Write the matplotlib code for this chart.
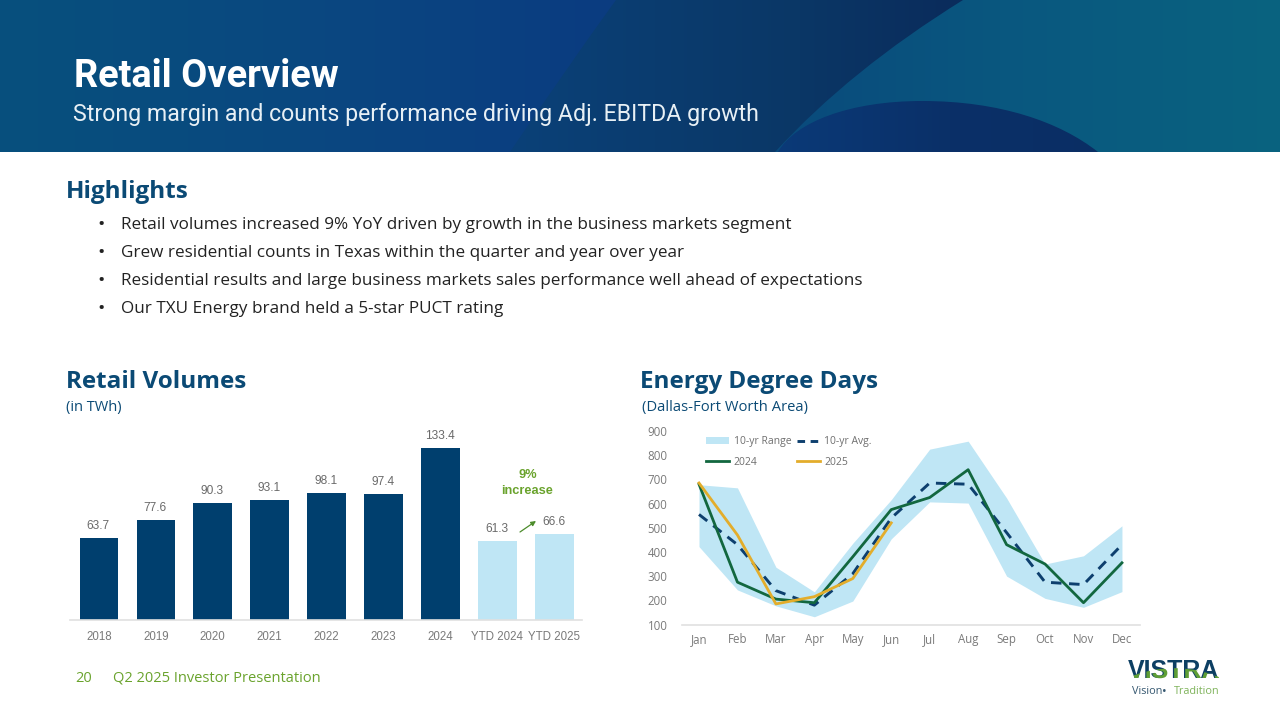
import numpy as np
import matplotlib
matplotlib.use("Agg")
import matplotlib.pyplot as plt
from matplotlib.font_manager import FontProperties
from matplotlib.patches import Patch, PathPatch
from matplotlib.path import Path
from matplotlib.lines import Line2D
from matplotlib.textpath import TextPath
from matplotlib.transforms import Affine2D

# retail volumes
years = ["2018", "2019", "2020", "2021", "2022", "2023", "2024", "YTD 2024", "YTD 2025"]
volumes = [63.7, 77.6, 90.3, 93.1, 98.1, 97.4, 133.4, 61.3, 66.6]

# degree days
months = ["Jan", "Feb", "Mar", "Apr", "May", "Jun", "Jul", "Aug", "Sep", "Oct", "Nov", "Dec"]
range_high = [678, 665, 337, 235, 436, 616, 825, 858, 623, 350, 384, 508]
range_low = [422, 243, 177, 132, 197, 454, 607, 602, 300, 208, 171, 236]
avg_10yr = [555, 430, 240, 180, 310, 540, 685, 680, 480, 275, 265, 430]
dd_2024 = [680, 275, 205, 190, 380, 575, 625, 740, 430, 350, 190, 355]
dd_2025 = [685, 470, 185, 215, 290, 520]

bullets = [
    "Retail volumes increased 9% YoY driven by growth in the business markets segment",
    "Grew residential counts in Texas within the quarter and year over year",
    "Residential results and large business markets sales performance well ahead of expectations",
    "Our TXU Energy brand held a 5-star PUCT rating",
]

NAVY = "#003f6e"
HEAD = "#0b4a75"
LIGHT = "#bfe6f5"
GREY = "#7a7a7a"
GREEN = "#6aa32d"
BODY = "Open Sans"

W, H = 1280, 720
fig = plt.figure(figsize=(12.8, 7.2), dpi=100, facecolor="white")


def px_axes(x0, y0, x1, y1, **kw):
    return fig.add_axes([x0 / W, 1 - y1 / H, (x1 - x0) / W, (y1 - y0) / H], **kw)


bg = px_axes(0, 0, W, H)
bg.set_xlim(0, W)
bg.set_ylim(H, 0)
bg.autoscale(False)
bg.axis("off")


def gradient(stops, clip=None, z=1):
    xs = np.arange(W) + 0.5
    pos = [s[0] for s in stops]
    cols = np.array([matplotlib.colors.to_rgb(s[1]) for s in stops])
    img = np.stack([np.interp(xs, pos, cols[:, i]) for i in range(3)], axis=-1)[None, :, :]
    im = bg.imshow(img, extent=[0, W, 152, 0], aspect="auto", zorder=z)
    if clip is not None:
        im.set_clip_path(clip, transform=bg.transData)


# header banner
gradient([(0, "#07507d"), (300, "#0a4880"), (600, "#0b3c80"), (W, "#0b3c80")], z=1)
band = Path([(616, 0), (565, 70), (510, 152), (W, 152), (W, 0), (616, 0)],
            [Path.MOVETO, Path.CURVE3, Path.CURVE3, Path.LINETO, Path.LINETO, Path.CLOSEPOLY])
gradient([(510, "#0b4178"), (800, "#0a3766"), (950, "#0a2c5c"), (W, "#0a2c5c")], clip=band, z=2)
right = Path([(963, 0), (850, 70), (775, 152), (W, 152), (W, 0), (963, 0)],
             [Path.MOVETO, Path.CURVE3, Path.CURVE3, Path.LINETO, Path.LINETO, Path.CLOSEPOLY])
gradient([(775, "#0a4a7c"), (1000, "#09577f"), (W, "#0a6380")], clip=right, z=3)
bump = Path([(778, 152), (795, 122), (850, 101), (922, 101),
             (1000, 101), (1060, 122), (1098, 152), (778, 152)],
            [Path.MOVETO, Path.CURVE4, Path.CURVE4, Path.CURVE4,
             Path.CURVE4, Path.CURVE4, Path.CURVE4, Path.CLOSEPOLY])
gradient([(775, "#0a3a78"), (950, "#0a3068"), (W, "#0a2c60")], clip=bump, z=4)

bg.text(74, 76.5, "Retail Overview", color="white", fontsize=27.4, fontweight="bold", family="Roboto", va="center", zorder=6)
bg.text(73, 114, "Strong margin and counts performance driving Adj. EBITDA growth", color="#e8f0f5",
        fontsize=16.65, family="Roboto", va="center", zorder=6)

# highlights
bg.text(66, 192.5, "Highlights", color=HEAD, fontsize=17.5, fontweight="bold", family=BODY, va="center")
for i, line in enumerate(bullets):
    y = 225 + i * 28
    bg.text(97, y, "•", color="#222222", fontsize=14, family=BODY, va="center")
    bg.text(121, y, line, color="#222222", fontsize=12.3, family=BODY, va="center")

bg.text(66, 382, "Retail Volumes", color=HEAD, fontsize=17.5, fontweight="bold", family=BODY, va="center")
bg.text(66, 407.5, "(in TWh)", color=HEAD, fontsize=10.5, family=BODY, va="center")
bg.text(640, 382, "Energy Degree Days", color=HEAD, fontsize=17.5, fontweight="bold", family=BODY, va="center")
bg.text(642, 407.5, "(Dallas-Fort Worth Area)", color=HEAD, fontsize=10.6, family=BODY, va="center")

# bar chart, 1.286 px per TWh, 56.9 px per bar
ax1 = px_axes(70, 425, 582, 619.5)
ax1.patch.set_alpha(0)
ax1.set_xlim((70 - 99) / 56.9, (582 - 99) / 56.9)
ax1.set_ylim(0, 194.5 / 1.286)
pos = np.arange(len(years))
colors = [NAVY] * 7 + [LIGHT] * 2
ax1.bar(pos, volumes, width=0.68, color=colors)
for p, v in zip(pos, volumes):
    ax1.annotate(f"{v:.1f}", (p, v), xytext=(-0.5, 6.5), textcoords="offset points", ha="center",
                 fontsize=8.6, color="#6a6a6a", family="Liberation Sans")
ax1.set_xticks(pos, years)
ax1.tick_params(axis="x", length=0, pad=8.2, labelsize=8.3, labelcolor=GREY)
for t in ax1.get_xticklabels():
    t.set_family("Liberation Sans")
ax1.set_yticks([])
for s in ["top", "left", "right"]:
    ax1.spines[s].set_visible(False)
ax1.spines["bottom"].set_color("#e0e0e0")
ax1.spines["bottom"].set_linewidth(1.2)

bg.text(527.5, 475, "9%", color=GREEN, fontsize=9.2, fontweight="bold", family="Liberation Sans", ha="center", va="center")
bg.text(527.5, 491, "increase", color=GREEN, fontsize=9.2, fontweight="bold", family="Liberation Sans", ha="center", va="center")
bg.annotate("", xy=(536, 521), xytext=(520, 532),
            arrowprops=dict(arrowstyle="-|>", color="#4c8c2b", lw=0.9, mutation_scale=7, shrinkA=0, shrinkB=0))

# degree day chart, Jan at 699 px, 38.45 px per month, 100 at 624.5 px, 900 at 431 px
ax2 = px_axes(682, 423, 1140, 624.5)
ax2.patch.set_alpha(0)
ax2.set_xlim((682 - 699) / 38.45, (1140 - 699) / 38.45)
ax2.set_ylim(100, 100 + (624.5 - 423) / (193.5 / 800))
m = np.arange(len(months))
ax2.fill_between(m, range_low, range_high, color=LIGHT, lw=0, zorder=1)
ax2.plot(m, avg_10yr, color="#0d3f6e", lw=2.1, dashes=(3.6, 2.6), zorder=2)
ax2.plot(m, dd_2024, color="#12673f", lw=2, zorder=3)
ax2.plot(m[:len(dd_2025)], dd_2025, color="#e3ad2b", lw=2, zorder=4)
ax2.set_xticks(m, months)
ax2.set_yticks(range(100, 1000, 100))
ax2.tick_params(axis="x", length=0, pad=6, labelsize=8.3, labelcolor=GREY)
ax2.tick_params(axis="y", length=0, pad=10.5, labelsize=8.3, labelcolor=GREY)
for t in ax2.get_xticklabels() + ax2.get_yticklabels():
    t.set_family("Open Sans")
for s in ["top", "left", "right"]:
    ax2.spines[s].set_visible(False)
ax2.spines["bottom"].set_color("#e0e0e0")
ax2.spines["bottom"].set_linewidth(1.2)

handles = [
    Patch(color=LIGHT, lw=0),
    Line2D([], [], color="#12673f", lw=2),
    Line2D([], [], color="#0d3f6e", lw=2.1, dashes=(2.6, 1.9)),
    Line2D([], [], color="#e3ad2b", lw=2),
]
labels = ["10-yr Range", "2024", "10-yr Avg.", "2025"]
ax2.legend(handles, labels, ncol=2, frameon=False, loc="upper left", bbox_to_anchor=(0.037, 0.97),
           labelcolor="#6f6f6f", handlelength=2.2, handletextpad=0.45,
           columnspacing=0.5, labelspacing=0.92, borderpad=0.2,
           prop={"family": "Open Sans", "size": 7.5})

# footer
bg.text(75, 678, "20", color=GREEN, fontsize=10.5, family=BODY, va="center")
bg.text(113, 678, "Q2 2025 Investor Presentation", color=GREEN, fontsize=10.5, family=BODY, va="center")

# logo, navy letters with the lower middle of them green below a shallow arc
logo_font = FontProperties(family="Liberation Sans", weight="bold")
bg.text(1128, 678, "VISTRA", color="#0d3f63", fontsize=18, fontweight="bold",
        family="Liberation Sans", ha="left", va="baseline", zorder=5)
arc_low = Path([(1122, 680), (1174, 656), (1226, 680), (1226, 690), (1122, 690), (1122, 680)],
               [Path.MOVETO, Path.CURVE3, Path.CURVE3, Path.LINETO, Path.LINETO, Path.CLOSEPOLY])
letters = TextPath((0, 0), "VISTRA", size=18 * 100 / 72, prop=logo_font)
green_part = PathPatch(letters, facecolor="#5f9e35", lw=0, zorder=6,
                       transform=Affine2D().scale(1, -1).translate(1128, 678) + bg.transData)
bg.add_patch(green_part)
green_part.set_clip_path(arc_low, transform=bg.transData)
bg.text(1132, 692, "Vision", color="#34566f", fontsize=7.8, family=BODY, va="center")
bg.text(1164.5, 692, "•", color="#34566f", fontsize=9, family=BODY, ha="center", va="center")
bg.text(1174, 692, "Tradition", color="#7fb35a", fontsize=7.8, family=BODY, va="center")

fig.savefig("out.png", dpi=100)
